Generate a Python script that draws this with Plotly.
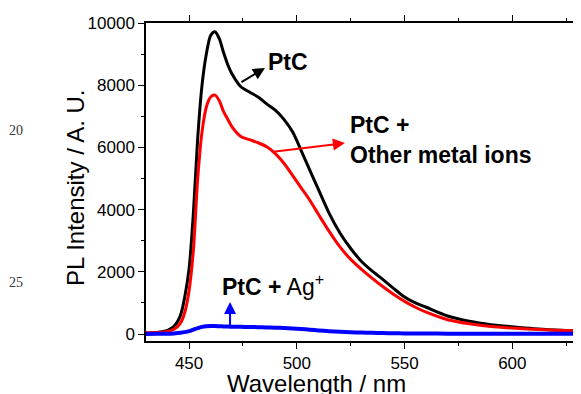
import plotly.graph_objects as go

wavelength = [430, 435, 440, 443, 446, 448, 450, 452, 454, 456, 458, 460, 462, 464, 466, 468, 470,
              474, 478, 482, 486, 490, 494, 498, 502, 506, 510, 515, 520, 525, 530, 535, 540, 545, 550,
              555, 560, 570, 580, 590, 600, 610, 620, 630]
ptc = [30, 50, 120, 250, 600, 1200, 2100, 3900, 6300, 8000, 9000, 9600, 9720, 9500, 9050, 8650, 8350,
       7950, 7780, 7620, 7400, 7200, 6900, 6500, 5900, 5270, 4650, 3880, 3250, 2750, 2330, 2020, 1750, 1460, 1190,
       1000, 860, 580, 410, 300, 230, 170, 130, 100]
ptc_other = [40, 50, 80, 150, 350, 700, 1400, 2700, 5000, 6500, 7300, 7620, 7680, 7500, 7150, 6900, 6650,
             6350, 6250, 6150, 6020, 5800, 5490, 5100, 4700, 4300, 3850, 3300, 2800, 2400, 2080, 1790, 1520, 1270, 1050,
             860, 700, 460, 330, 240, 190, 150, 120, 100]
ptc_ag = [0, 5, 10, 20, 40, 60, 90, 140, 190, 230, 250, 255, 255, 250, 245, 240, 235,
          230, 225, 220, 212, 205, 195, 180, 160, 140, 115, 90, 70, 55, 45, 37, 30, 25, 20,
          17, 15, 10, 8, 6, 5, 5, 5, 5]

y_ticks = [0, 2000, 4000, 6000, 8000, 10000]
y_tick_labels = ["0", "2000", "4000", "6000", "8000", "10000"]
x_ticks = [450, 500, 550, 600]

FONT = "Arial, Liberation Sans, sans-serif"
OFF = 8  # default page body margin
W, H = 581 - OFF, 394 - OFF
ml, mr, mt, mb = 146 - OFF, 4, 23 - OFF, 53
pw, ph = W - ml - mr, H - mt - mb


def px(x):
    return (x - OFF - ml) / pw


def py(y):
    return 1 - (y - OFF - mt) / ph


fig = go.Figure()
fig.add_trace(go.Scatter(x=wavelength, y=ptc, mode="lines",
                         line=dict(color="black", width=3, shape="spline", smoothing=0.8)))
fig.add_trace(go.Scatter(x=wavelength, y=ptc_other, mode="lines",
                         line=dict(color="red", width=3, shape="spline", smoothing=0.8)))
fig.add_trace(go.Scatter(x=wavelength, y=ptc_ag, mode="lines",
                         line=dict(color="blue", width=4, shape="spline", smoothing=0.8)))

axis_common = dict(showline=True, linecolor="black", linewidth=1.5, mirror="ticks", showgrid=False,
                   zeroline=False, ticks="outside", ticklen=6, tickwidth=1, tickcolor="black",
                   automargin=False, tickfont=dict(family=FONT, size=17, color="black"))

fig.update_xaxes(range=[430, 630], tickvals=x_ticks,
                 minor=dict(dtick=25, tick0=425, ticks="outside", ticklen=3, tickcolor="black"),
                 **axis_common)
fig.update_yaxes(range=[-225, 10000], tickvals=y_ticks, ticktext=y_tick_labels,
                 minor=dict(dtick=1000, tick0=0, ticks="outside", ticklen=3, tickcolor="black"),
                 **axis_common)

ann = []
# axis titles
ann.append(dict(x=px(316), y=py(383), xref="paper", yref="paper", showarrow=False,
                xanchor="center", yanchor="middle", text="Wavelength / nm",
                font=dict(family=FONT, size=24, color="black")))
ann.append(dict(x=px(75), y=py(188), xref="paper", yref="paper", showarrow=False, textangle=-90,
                xanchor="center", yanchor="middle", text="PL Intensity / A. U.",
                font=dict(family=FONT, size=24, color="black")))
# arrows
ann.append(dict(x=485.2, y=8553, ax=-25, ay=15, xref="x", yref="y",
                showarrow=True, arrowhead=2, arrowsize=1.2, arrowwidth=2, arrowcolor="black", text=""))
ann.append(dict(x=522.3, y=6141, ax=-73, ay=9, xref="x", yref="y",
                showarrow=True, arrowhead=2, arrowsize=1.2, arrowwidth=2, arrowcolor="red", text=""))
ann.append(dict(x=469, y=1029, ax=0, ay=25, xref="x", yref="y",
                showarrow=True, arrowhead=2, arrowsize=1.2, arrowwidth=2, arrowcolor="blue", text=""))
# labels
ann.append(dict(x=485.7, y=8746, xref="x", yref="y", showarrow=False, xanchor="left", yanchor="middle",
                text="<b>PtC</b>", font=dict(family=FONT, size=23, color="black")))
ann.append(dict(x=523.7, y=6238, xref="x", yref="y", showarrow=False, xanchor="left", yanchor="middle",
                align="left", text="<b>PtC +</b><br><b>Other metal ions</b>",
                font=dict(family=FONT, size=23, color="black")))
ann.append(dict(x=464.3, y=1575, xref="x", yref="y", showarrow=False, xanchor="left", yanchor="middle",
                text="<b>PtC +</b> Ag<sup>+</sup>", font=dict(family=FONT, size=23, color="black")))
# stray line numbers
for txt, yy in [("20", 130), ("25", 282)]:
    ann.append(dict(x=px(16), y=py(yy), xref="paper", yref="paper", showarrow=False, text=txt,
                    xanchor="center", yanchor="middle",
                    font=dict(family="Liberation Serif, Times New Roman, serif", size=14, color="#333")))

fig.update_layout(annotations=ann, width=W, height=H, margin=dict(l=ml, r=mr, t=mt, b=mb),
                  plot_bgcolor="white", paper_bgcolor="white", showlegend=False)

fig.write_html("out.html")
